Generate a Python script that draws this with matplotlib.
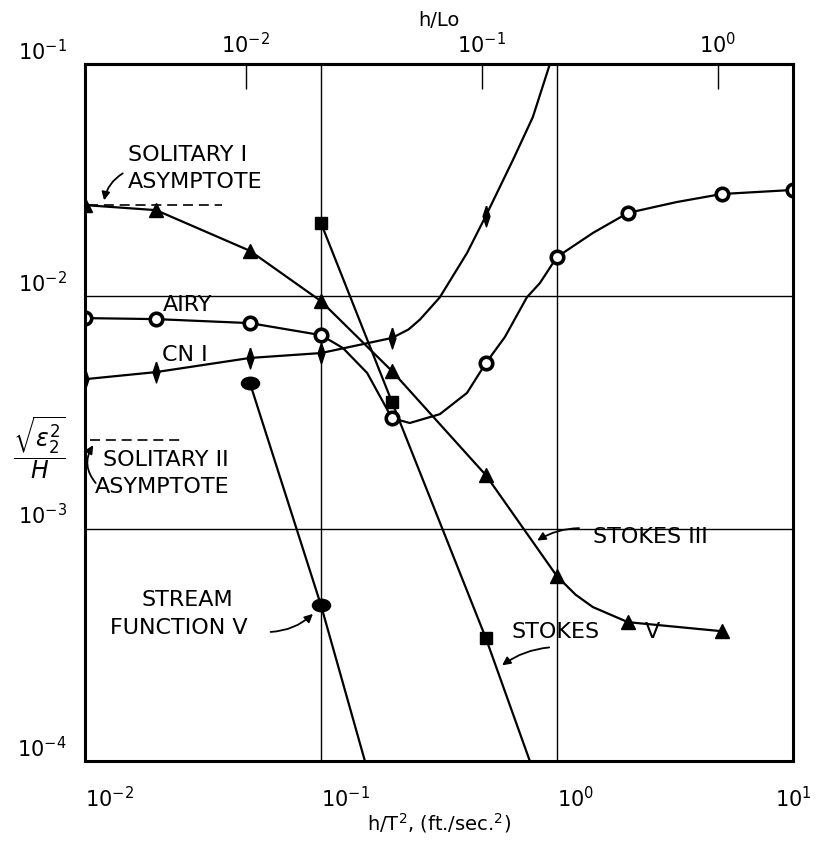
import numpy as np
import matplotlib
matplotlib.use("Agg")
import matplotlib.pyplot as plt
from matplotlib.markers import MarkerStyle
from matplotlib.transforms import Affine2D
from matplotlib.ticker import NullLocator

# values: x = h/T^2 (ft/sec^2), y = sqrt(eps2^2)/H
# "marks" = which points carry a symbol, the rest only trace the curve
stokes3_x = [0.01, 0.02, 0.05, 0.1, 0.2, 0.5, 1.0, 1.2, 1.42, 2.0, 5.0]
stokes3_y = [0.0247, 0.0235, 0.0157, 0.00954, 0.00477, 0.0017, 0.000625, 0.00052, 0.00046, 0.000396, 0.000362]
stokes3_marks = [0, 1, 2, 3, 4, 5, 6, 9, 10]

airy_x = [0.01, 0.02, 0.05, 0.1, 0.124, 0.157, 0.2, 0.238, 0.319, 0.416, 0.5, 0.602, 0.746, 0.847, 1.0, 1.42, 2.0, 3.22, 5.0, 10.0]
airy_y = [0.00806, 0.00798, 0.00767, 0.00681, 0.00599, 0.00468, 0.00299, 0.00285, 0.00311, 0.00384, 0.00516, 0.00668, 0.0099, 0.0114, 0.01476, 0.01873, 0.02286, 0.02546, 0.02757, 0.0287]
airy_marks = [0, 1, 2, 3, 6, 10, 14, 16, 18, 19]

cn1_x = [0.01, 0.02, 0.05, 0.1, 0.2, 0.235, 0.263, 0.319, 0.416, 0.5, 0.651, 0.791, 0.934]
cn1_y = [0.0044, 0.00472, 0.00543, 0.0057, 0.00662, 0.0072, 0.00795, 0.0099, 0.01536, 0.0222, 0.0386, 0.0591, 0.1]
cn1_marks = [0, 1, 2, 3, 4, 9]

stokes5_x = [0.1, 0.2, 0.5, 0.768]
stokes5_y = [0.0207, 0.00351, 0.000338, 0.0001]
stokes5_marks = [0, 1, 2]

stream5_x = [0.05, 0.1, 0.1536]
stream5_y = [0.00424, 0.000469, 0.0001]
stream5_marks = [0, 1]

solitary1_y = 0.0247
solitary1_x = [0.0103, 0.038]
solitary2_y = 0.0024
solitary2_x = [0.0105, 0.026]

x_ticks = [0.01, 0.1, 1.0, 10.0]
x_labels = ["$10^{-2}$", "$10^{-1}$", "$10^{0}$", "$10^{1}$"]
y_ticks = [1e-4, 1e-3, 1e-2, 1e-1]
y_labels = ["$10^{-4}$", "$10^{-3}$", "$10^{-2}$", "$10^{-1}$"]
lo_ticks = [0.01, 0.1, 1.0]
lo_labels = ["$10^{-2}$", "$10^{-1}$", "$10^{0}$"]
lo_factor = 4.8   # h/Lo = (h/T^2) / lo_factor, as the top scale sits

fig = plt.figure(figsize=(8.25, 8.41), dpi=100)
ax = fig.add_axes([0.103, 0.0951, 0.858, 0.8288])
ax.set_xscale("log")
ax.set_yscale("log")
ax.set_xlim(0.01, 10)
ax.set_ylim(1e-4, 0.1)

lw = 1.6
diamond = [(0, 1), (0.33, 0), (0, -1), (-0.33, 0), (0, 1)]
ellipse = MarkerStyle("o", transform=Affine2D().scale(1.45, 1.0))

ax.plot(stokes3_x, stokes3_y, color="black", lw=lw, marker="^", ms=10,
        mfc="black", mec="black", markevery=stokes3_marks)
ax.plot(airy_x, airy_y, color="black", lw=lw, marker="o", ms=9,
        mfc="white", mec="black", mew=2.6, markevery=airy_marks)
ax.plot(cn1_x, cn1_y, color="black", lw=lw, marker=diamond, ms=15,
        mfc="black", mec="black", markevery=cn1_marks)
ax.plot(stokes5_x, stokes5_y, color="black", lw=lw, marker="s", ms=8,
        mfc="black", mec="black", markevery=stokes5_marks)
ax.plot(stream5_x, stream5_y, color="black", lw=lw, marker=ellipse, ms=9,
        mfc="black", mec="black", markevery=stream5_marks)

# asymptotes
ax.plot(solitary1_x, [solitary1_y, solitary1_y], color="black", lw=1.2, ls=(0, (6, 3.5)))
ax.plot(solitary2_x, [solitary2_y, solitary2_y], color="black", lw=1.2, ls=(0, (6, 3.5)))

# grid / frame
ax.grid(True, which="major", color="black", lw=1.0)
for s in ax.spines.values():
    s.set_linewidth(2.2)

ax.set_xticks(x_ticks)
ax.set_xticklabels(x_labels)
ax.set_yticks(y_ticks)
ax.set_yticklabels(y_labels)
ax.minorticks_off()
ax.tick_params(axis="both", length=0, labelsize=15)
ax.tick_params(axis="x", pad=18)
ax.tick_params(axis="y", pad=13)
xl = ax.get_xticklabels()
for lbl in xl:
    lbl.set_ha("left")
xl[-1].set_ha("center")
for lbl in ax.get_yticklabels():
    lbl.set_va("bottom")

ax.set_xlabel("h/T$^2$, (ft./sec.$^2$)", fontsize=14, labelpad=0)
fig.text(0.048, 0.468, r"$\dfrac{\sqrt{\epsilon_2^2}}{H}$", fontsize=17,
         ha="center", va="center")

secax = ax.secondary_xaxis("top", functions=(lambda x: x / lo_factor, lambda x: x * lo_factor))
secax.set_xticks(lo_ticks)
secax.set_xticklabels(lo_labels)
secax.xaxis.set_minor_locator(NullLocator())
secax.tick_params(direction="in", length=18, width=1.0, labelsize=15, pad=5)
secax.set_xlabel("h/Lo", fontsize=14, labelpad=4)
secax.spines["top"].set_linewidth(2.2)

# curve labels
fs = 16
ax.text(0.0152, 0.0406, "SOLITARY I", fontsize=fs, ha="left", va="center")
ax.text(0.0152, 0.031, "ASYMPTOTE", fontsize=fs, ha="left", va="center")
ax.text(0.0119, 0.00197, "SOLITARY II", fontsize=fs, ha="left", va="center")
ax.text(0.0110, 0.00151, "ASYMPTOTE", fontsize=fs, ha="left", va="center")
ax.text(0.0214, 0.00917, "AIRY", fontsize=fs, ha="left", va="center")
ax.text(0.0212, 0.00559, "CN I", fontsize=fs, ha="left", va="center")
ax.text(0.0174, 0.000493, "STREAM", fontsize=fs, ha="left", va="center")
ax.text(0.0128, 0.000373, "FUNCTION V", fontsize=fs, ha="left", va="center")
ax.text(1.42, 0.00092, "STOKES III", fontsize=fs, ha="left", va="center")
ax.text(0.645, 0.000359, "STOKES", fontsize=fs, ha="left", va="center")
ax.text(2.55, 0.000359, "V", fontsize=fs, ha="center", va="center")

arrow = dict(arrowstyle="-|>", color="black", lw=1.3, mutation_scale=12)
ax.annotate("", xy=(0.0120, 0.0252), xytext=(0.0148, 0.0343),
            arrowprops=dict(arrow, connectionstyle="arc3,rad=0.25"))
ax.annotate("", xy=(0.0110, 0.00234), xytext=(0.0113, 0.00154),
            arrowprops=dict(arrow, connectionstyle="arc3,rad=-0.4"))
ax.annotate("", xy=(0.0943, 0.000438), xytext=(0.0596, 0.000359),
            arrowprops=dict(arrow, connectionstyle="arc3,rad=0.2"))
ax.annotate("", xy=(0.807, 0.000876), xytext=(1.276, 0.001006),
            arrowprops=dict(arrow, connectionstyle="arc3,rad=0.15"))
ax.annotate("", xy=(0.5735, 0.000254), xytext=(0.953, 0.000309),
            arrowprops=dict(arrow, connectionstyle="arc3,rad=0.15"))

fig.savefig("out.png", dpi=100)
